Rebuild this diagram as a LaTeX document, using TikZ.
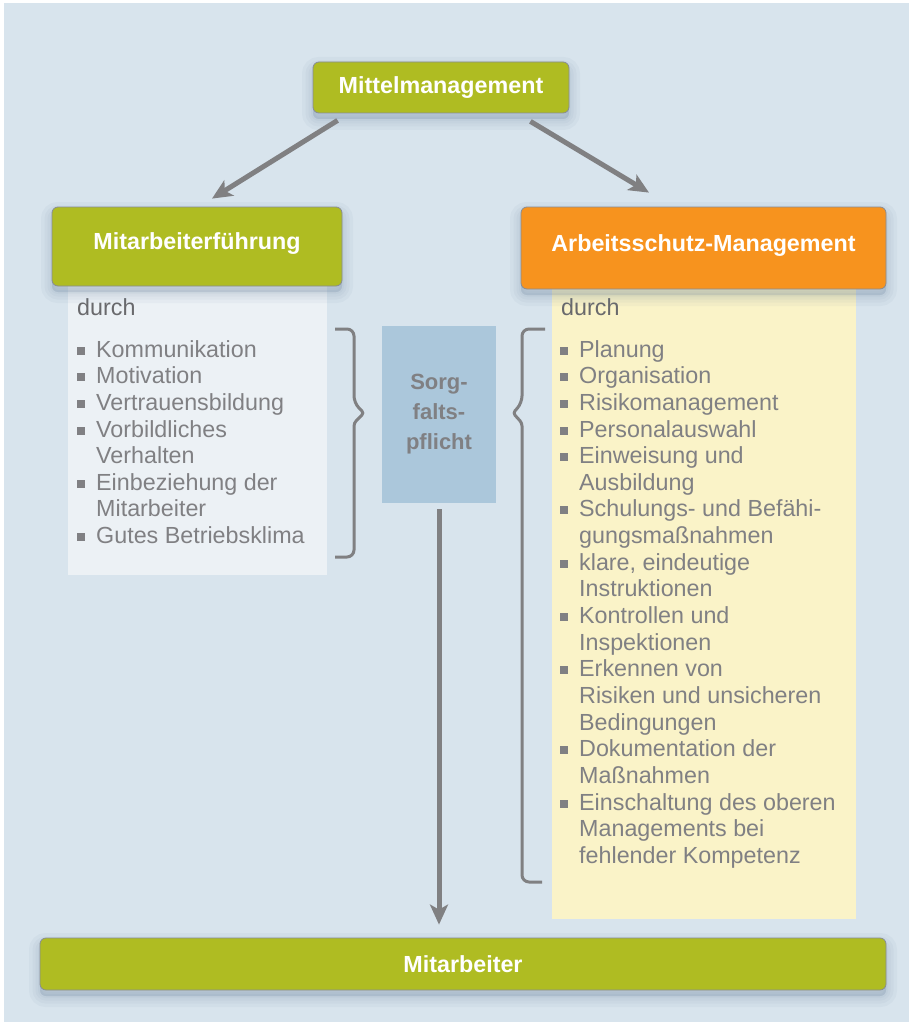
\documentclass[tikz,border=0pt]{standalone}
\usepackage{fontspec}
\setmainfont{Liberation Sans}
\usetikzlibrary{arrows.meta,calc}

\definecolor{bgblue}{RGB}{216,228,237}
\definecolor{olivegreen}{RGB}{175,188,34}
\definecolor{orangebox}{RGB}{247,147,30}
\definecolor{paleblue}{RGB}{236,241,245}
\definecolor{paleyellow}{RGB}{250,243,200}
\definecolor{sorgblue}{RGB}{171,199,219}
\definecolor{textgray}{RGB}{128,128,131}
\definecolor{durchgray}{RGB}{105,105,108}
\definecolor{linegray}{RGB}{128,128,130}
\definecolor{framegray}{RGB}{135,140,150}
\definecolor{shadowblue}{RGB}{95,120,150}

% Aufzaehlungszeichen und Einzug fuer Folgezeilen
\newcommand{\bul}{\makebox[19pt][l]{\raisebox{2.5pt}{\rule{8pt}{8pt}}}}
\newcommand{\ind}{\hspace*{19pt}}

\tikzset{
  shadowring/.style={preaction={draw=shadowblue, fill=shadowblue, opacity=0.05,
    line width=#1, transform canvas={yshift=-6pt}}},
  softshadow/.style={shadowring=22pt, shadowring=15pt, shadowring=9pt, shadowring=4pt},
  headbox/.style={softshadow, draw=framegray, line width=0.8pt, rounded corners=6pt, text=white,
    font=\fontsize{23.3}{28}\selectfont\bfseries},
  listbg/.style={draw=none, inner sep=0pt, anchor=north west},
  listtext/.style={anchor=north west, inner sep=0pt, align=left, text=textgray,
    font=\fontsize{23.3}{26.65}\selectfont},
  durchtext/.style={anchor=base west, inner sep=0pt, text=durchgray, font=\fontsize{23.3}{28}\selectfont},
  brace/.style={draw=linegray, line width=3pt, rounded corners=7pt},
  arr/.style={draw=linegray, line width=5pt, -{Stealth[length=20pt,width=18pt,inset=5pt]}},
}

\begin{document}
\begin{tikzpicture}[x=1pt, y=-1pt]
\useasboundingbox (0,0) rectangle (913,1022);
\fill[white] (0,0) rectangle (913,1022);
\fill[bgblue] (4,3) rectangle (909,1022);

% Hintergruende der Listen
\node[listbg, fill=paleblue, minimum width=259pt, minimum height=289pt] (leftbg) at (68,286) {};
\node[listbg, fill=paleyellow, minimum width=304pt, minimum height=630pt] (rightbg) at (552,289) {};

% Klammern
\draw[brace] (335,329) -- (354,329) -- (354,403) {[rounded corners=3pt] -- (364,413) -- (354,423)} -- (354,557) -- (335,557);
\draw[brace] (545,329) -- (522,329) -- (522,403) {[rounded corners=3pt] -- (513,413) -- (522,423)} -- (522,882) -- (542,882);

% Sorgfaltspflicht
\node[fill=sorgblue, minimum width=114pt, minimum height=177pt, text=textgray, align=center,
  font=\fontsize{22}{30}\selectfont\bfseries] (sorg) at (439,414.5) {Sorg-\\falts-\\pflicht};

% Listen
\node[durchtext] (durchL) at (77,315) {durch};
\node[durchtext] (durchR) at (561,315) {durch};

\node[listtext] (listL) at (77,340) {
\bul Kommunikation\\
\bul Motivation\\
\bul Vertrauensbildung\\
\bul Vorbildliches\\
\ind Verhalten\\
\bul Einbeziehung der\\
\ind Mitarbeiter\\
\bul Gutes Betriebsklima
};

\node[listtext] (listR) at (560,340) {
\bul Planung\\
\bul Organisation\\
\bul Risikomanagement\\
\bul Personalauswahl\\
\bul Einweisung und\\
\ind Ausbildung\\
\bul Schulungs- und Befähi-\\
\ind gungsmaßnahmen\\
\bul klare, eindeutige\\
\ind Instruktionen\\
\bul Kontrollen und\\
\ind Inspektionen\\
\bul Erkennen von\\
\ind Risiken und unsicheren\\
\ind Bedingungen\\
\bul Dokumentation der\\
\ind Maßnahmen\\
\bul Einschaltung des oberen\\
\ind Managements bei\\
\ind fehlender Kompetenz
};

% Kopfkaesten
\node[headbox, fill=olivegreen, minimum width=256pt, minimum height=51pt] (mittel) at (441,87.5) {Mittelmanagement};
\node[headbox, fill=olivegreen, minimum width=290pt, minimum height=79pt, text depth=10pt] (fuehrung) at (197,246.5) {Mitarbeiterführung};
\node[headbox, fill=orangebox, minimum width=365pt, minimum height=82pt, text depth=10pt] (arbeits) at (703.5,248) {Arbeitsschutz-Management};
\node[headbox, fill=olivegreen, minimum width=846pt, minimum height=52pt] (mitarb) at (463,964) {Mitarbeiter};

% Pfeile
\draw[arr] ($(mittel.south west)+(25,7)$) -- ($(fuehrung.north)+(15,-8)$);
\draw[arr] ($(mittel.south east)+(-39,8)$) -- ($(arbeits.north)+(-54.5,-14)$);
\draw[arr] ($(sorg.south)+(0,6)$) -- ($(mitarb.north -| sorg.south)+(0,-13)$);
\end{tikzpicture}
\end{document}
